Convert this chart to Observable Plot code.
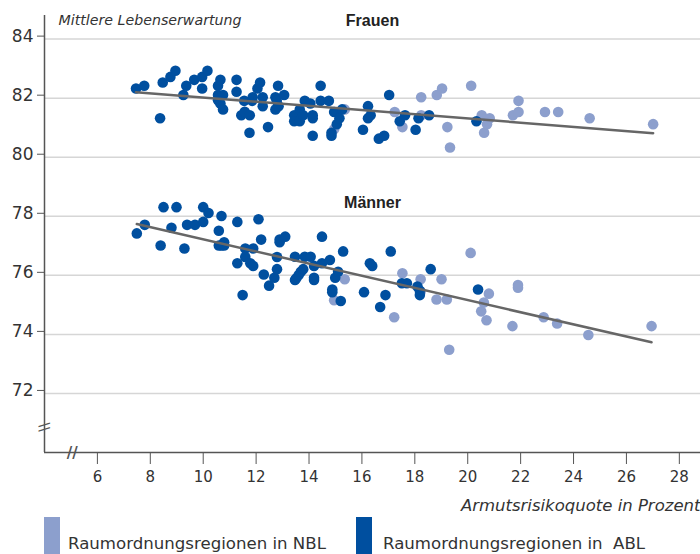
<!DOCTYPE html>
<html>
<head>
<meta charset="utf-8">
<script src="https://cdn.jsdelivr.net/npm/d3@7"></script>
<script src="https://cdn.jsdelivr.net/npm/@observablehq/plot@0.6"></script>
<style>
  body { margin: 0; background: #fff; font-family: "DejaVu Sans", sans-serif; }
  #chart svg { display: block; }
  #legend { position: relative; width: 700px; height: 40px; overflow: hidden; }
  .sw { position: absolute; top: 3px; width: 16px; height: 40px; }
  .lt { position: absolute; top: 20px; font-size: 16.6px; color: #333; white-space: pre; }
</style>
</head>
<body>
<div id="chart"></div>
<div id="legend">
  <div class="sw" style="left:44px;background:#8c9fcd"></div>
  <div class="lt" style="left:68px">Raumordnungsregionen in NBL</div>
  <div class="sw" style="left:356px;background:#004f9f"></div>
  <div class="lt" style="left:383px">Raumordnungsregionen in  ABL</div>
</div>
<script>
// Frauen, Raumordnungsregionen in ABL
const frauenAblX = [7.46,7.77,8.37,8.47,8.76,8.95,9.25,9.36,9.66,9.96,9.96,10.16,10.56,10.65,10.56,10.75,10.56,10.65,10.75,11.26,11.26,11.44,11.55,11.57,11.76,11.75,11.85,11.87,12.05,12.15,12.25,12.25,12.45,12.73,12.73,12.83,12.78,12.85,13.06,13.44,13.44,13.65,13.65,13.78,13.84,14.05,14.14,14.14,14.14,14.44,14.44,14.75,14.85,14.85,14.95,15.05,15.15,15.25,16.04,16.23,16.23,16.33,16.64,16.84,17.03,17.43,17.63,18.03,18.14,18.54,20.33];
const frauenAblY = [82.33,82.42,81.32,82.53,82.72,82.93,82.11,82.42,82.62,82.72,82.33,82.93,82.42,82.62,82.11,82.11,81.93,81.82,81.62,82.62,82.22,81.42,81.91,81.54,81.42,80.83,81.91,82.03,82.33,82.53,82.03,81.73,81.02,82.03,81.62,82.42,81.91,81.73,82.11,81.42,81.22,81.62,81.22,81.42,81.91,81.82,81.42,81.32,80.73,82.42,81.91,81.91,80.83,80.73,81.53,81.12,81.32,81.62,80.93,81.73,81.32,81.42,80.63,80.73,82.11,81.22,81.42,80.93,81.32,81.42,81.22];
// Frauen, Raumordnungsregionen in NBL
const frauenNblX = [14.95,15.35,17.24,17.53,18.24,18.24,18.83,19.03,19.23,19.33,20.13,20.53,20.62,20.73,20.83,21.71,21.92,21.92,22.92,23.42,24.61,27.01];
const frauenNblY = [80.95,81.62,81.53,81.02,82.03,81.42,82.11,82.33,81.02,80.33,82.42,81.42,80.83,81.12,81.32,81.42,81.53,81.91,81.53,81.53,81.32,81.12];
// Männer, Raumordnungsregionen in ABL
const maennerAblX = [7.49,7.79,8.39,8.50,8.80,8.99,9.29,9.39,9.69,10.00,10.00,10.20,10.59,10.69,10.59,10.69,10.79,10.79,11.29,11.29,11.49,11.59,11.59,11.78,11.89,11.89,12.09,12.19,12.29,12.49,12.69,12.79,12.79,12.89,12.89,13.10,13.47,13.47,13.52,13.61,13.69,13.78,13.84,14.06,14.19,14.19,14.19,14.49,14.49,14.79,14.88,14.88,14.99,15.10,15.20,15.29,16.08,16.30,16.39,16.69,16.89,17.09,17.51,17.70,18.10,18.19,18.19,18.60,20.39];
const maennerAblY = [77.42,77.71,77.01,78.31,77.61,78.31,76.91,77.71,77.71,78.31,77.81,78.11,77.51,78.01,77.01,77.01,77.12,77.01,77.81,76.41,75.33,76.91,76.62,76.41,76.32,76.91,77.90,77.21,76.03,75.65,75.92,76.62,76.21,77.21,77.12,77.31,76.63,75.84,75.90,76.01,76.12,76.21,76.63,76.63,76.32,75.92,75.84,77.31,76.41,76.52,75.52,75.43,75.92,76.12,75.13,76.81,75.43,76.41,76.32,74.93,75.33,76.81,75.73,75.73,75.62,75.48,75.33,76.21,75.52];
// Männer, Raumordnungsregionen in NBL
const maennerNblX = [14.95,15.35,17.22,17.53,18.22,18.22,18.82,19.01,19.21,19.30,20.11,20.51,20.61,20.71,20.80,21.69,21.90,21.90,22.87,23.38,24.56,26.95];
const maennerNblY = [75.16,75.87,74.58,76.07,75.87,75.45,75.18,75.87,75.18,73.48,76.76,74.78,75.08,74.48,75.38,74.28,75.67,75.58,74.58,74.37,73.98,74.28];

const xTicks = [6,8,10,12,14,16,18,20,22,24,26,28];
const yTicks = [72,74,76,78,80,82,84];

function rows(xs, ys, sex, region) {
  return xs.map((x, i) => ({x, y: ys[i], sex, region}));
}
const points = [
  ...rows(frauenAblX, frauenAblY, "Frauen", "ABL"),
  ...rows(frauenNblX, frauenNblY, "Frauen", "NBL"),
  ...rows(maennerAblX, maennerAblY, "Männer", "ABL"),
  ...rows(maennerNblX, maennerNblY, "Männer", "NBL")
];
const nbl = points.filter(d => d.region === "NBL");
const abl = points.filter(d => d.region === "ABL");

const chart = Plot.plot({
  width: 700,
  height: 514,
  marginLeft: 44,
  marginRight: 0,
  marginTop: 15,
  marginBottom: 62,
  x: {domain: [4, 28.8]},
  y: {domain: [70, 84.8]},
  style: {fontFamily: "DejaVu Sans, sans-serif", color: "#333", background: "#fff"},
  marks: [
    Plot.gridY(yTicks, {stroke: "#d6d6d6", strokeOpacity: 1, strokeWidth: 1.5}),
    Plot.axisX(xTicks, {tickSize: 12, tickPadding: 7, fontSize: 15, stroke: "#555", fill: "#333", label: null}),
    Plot.axisY(yTicks, {tickSize: 7, tickPadding: 4, fontSize: 17, stroke: "#555", fill: "#333", dy: -3, label: null}),
    Plot.ruleX([4], {stroke: "#555", strokeWidth: 1.5}),
    Plot.ruleY([70], {stroke: "#555", strokeWidth: 1.5}),
    Plot.text(["//"], {x: 5.05, y: 70, fontSize: 15, fill: "#555", fontWeight: "bold", dy: 1}),
    Plot.text(["\\\\"], {x: 4, y: 70.86, fontSize: 14, fill: "#555", rotate: 90}),
    Plot.dot(nbl, {x: "x", y: "y", r: 5.3, fill: "#8c9fcd"}),
    Plot.dot(abl, {x: "x", y: "y", r: 5.3, fill: "#004f9f"}),
    Plot.linearRegressionY(points, {x: "x", y: "y", z: "sex", stroke: "#666", strokeWidth: 2.5, ci: 0}),
    Plot.text(["Mittlere Lebenserwartung"], {frameAnchor: "top-left", dx: 14, dy: 5, lineAnchor: "middle", textAnchor: "start", fontSize: 14.2, fontStyle: "italic", fill: "#333"}),
    Plot.text(["Frauen"], {frameAnchor: "top", dy: 5, lineAnchor: "middle", fontSize: 16, fontWeight: "bold", fill: "#222", fontFamily: "Liberation Sans, sans-serif"}),
    Plot.text(["Männer"], {frameAnchor: "top", dy: 187.5, lineAnchor: "middle", fontSize: 16, fontWeight: "bold", fill: "#222", fontFamily: "Liberation Sans, sans-serif"}),
    Plot.text(["Armutsrisikoquote in Prozent"], {frameAnchor: "bottom-right", dy: 53, lineAnchor: "middle", textAnchor: "end", fontSize: 16.5, fontStyle: "italic", fill: "#333"})
  ]
});
document.getElementById("chart").appendChild(chart);
</script>
</body>
</html>
